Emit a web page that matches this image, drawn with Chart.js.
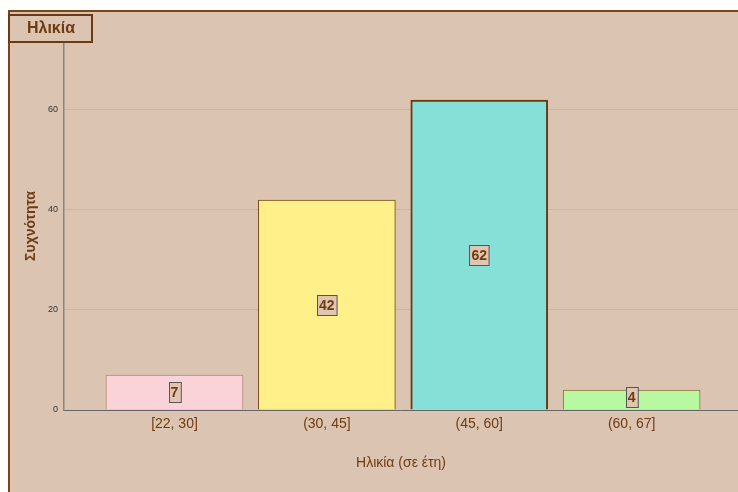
<!DOCTYPE html>
<html>
<head>
<meta charset="utf-8">
<script src="https://cdn.jsdelivr.net/npm/chart.js@4/dist/chart.umd.min.js"></script>
<style>
  html, body { margin: 0; padding: 0; background: #ffffff; }
  #wrap { width: 738px; height: 492px; position: relative; }
</style>
</head>
<body>
<div id="wrap"><canvas id="c" width="738" height="492"></canvas></div>
<script>
// Age groups and how many people fall in each
const categories = ['[22, 30]', '(30, 45]', '(45, 60]', '(60, 67]'];
const frequencies = [7, 42, 62, 4];
const yTickValues = [0, 20, 40, 60];

const chartTitle = 'Ηλικία';
const xAxisTitle = 'Ηλικία (σε έτη)';
const yAxisTitle = 'Συχνότητα';

const barFills = ['#f9d3d8', '#fff08a', '#86e0d7', '#b8f8a0'];
const barEdges = ['#b08a70', '#7a4512', '#6b3a0e', '#9a6a3a'];
const barEdgeWidths = [1, 1, 2, 1];

const BROWN = '#6e3c0e';
const PANEL = '#dcc4b2';
const FONT = '"Liberation Sans", Arial, sans-serif';

// Panel background, frame and boxed heading
const panelPlugin = {
  id: 'panel',
  beforeDraw(chart) {
    const ctx = chart.ctx;
    ctx.save();
    ctx.fillStyle = '#ffffff';
    ctx.fillRect(0, 0, chart.width, chart.height);
    ctx.fillStyle = PANEL;
    ctx.fillRect(8, 10, chart.width - 8, chart.height - 10);
    ctx.strokeStyle = '#7a4614';
    ctx.lineWidth = 2;
    ctx.beginPath();
    ctx.moveTo(9, chart.height);
    ctx.lineTo(9, 11);
    ctx.lineTo(chart.width, 11);
    ctx.stroke();
    ctx.restore();
  },
  afterDraw(chart) {
    const ctx = chart.ctx;
    ctx.save();
    ctx.fillStyle = PANEL;
    ctx.fillRect(9, 15, 83, 27);
    ctx.strokeStyle = '#6b3a0e';
    ctx.lineWidth = 2;
    ctx.strokeRect(9, 15, 83, 27);
    ctx.fillStyle = BROWN;
    ctx.font = 'bold 16px ' + FONT;
    ctx.textAlign = 'center';
    ctx.textBaseline = 'middle';
    ctx.fillText(chartTitle, 51, 29);
    ctx.restore();
  }
};

// Boxed value labels in the middle of each bar
const valueBoxPlugin = {
  id: 'valueBoxes',
  afterDatasetsDraw(chart) {
    const ctx = chart.ctx;
    const meta = chart.getDatasetMeta(0);
    const axisY = chart.scales.y.getPixelForValue(0);
    ctx.save();
    ctx.font = 'bold 14px ' + FONT;
    ctx.textAlign = 'center';
    ctx.textBaseline = 'middle';
    meta.data.forEach((bar, i) => {
      const text = String(frequencies[i]);
      const w = ctx.measureText(text).width + 4;
      const h = 20;
      let cy = (bar.y + bar.base) / 2;
      cy = Math.min(cy, axisY - 3 - h / 2);
      const x0 = Math.round(bar.x - w / 2) + 0.5;
      const y0 = Math.round(cy - h / 2) + 0.5;
      ctx.fillStyle = '#e0c6b2';
      ctx.fillRect(x0, y0, w, h);
      ctx.strokeStyle = '#555555';
      ctx.lineWidth = 1;
      ctx.strokeRect(x0, y0, w, h);
      ctx.fillStyle = BROWN;
      ctx.fillText(text, bar.x, cy + 1);
    });
    ctx.restore();
  }
};

new Chart(document.getElementById('c'), {
  type: 'bar',
  data: {
    datasets: [{
      data: frequencies.map((v, i) => ({ x: i, y: v })),
      backgroundColor: barFills,
      borderColor: barEdges,
      borderWidth: barEdgeWidths,
      barThickness: 137
    }]
  },
  options: {
    responsive: false,
    devicePixelRatio: 1,
    animation: false,
    layout: { padding: { top: 42, right: 0, bottom: 0, left: 0 } },
    plugins: {
      legend: { display: false },
      tooltip: { enabled: false }
    },
    scales: {
      x: {
        type: 'linear',
        offset: false,
        min: -0.725,
        max: 3.698,
        grid: { display: false, drawTicks: false, offset: false },
        border: { display: true, color: '#666666', width: 1 },
        afterBuildTicks(scale) {
          scale.ticks = categories.map((_, i) => ({ value: i }));
        },
        ticks: {
          autoSkip: false,
          maxRotation: 0,
          padding: 6,
          color: BROWN,
          font: { family: FONT, size: 14 },
          callback: (v) => categories[v]
        },
        title: {
          display: true,
          text: xAxisTitle,
          color: BROWN,
          font: { family: FONT, size: 14 },
          padding: { top: 0, bottom: 20 }
        },
        afterFit(scale) { scale.height = 82; }
      },
      y: {
        min: 0,
        max: 73.6,
        grid: { color: '#c6b8ae', drawTicks: false, lineWidth: 1 },
        border: { display: true, color: '#8a8480', width: 1.5 },
        afterBuildTicks(scale) {
          scale.ticks = yTickValues.map(v => ({ value: v }));
        },
        ticks: {
          padding: 6,
          color: '#333333',
          font: { family: FONT, size: 9 }
        },
        title: {
          display: true,
          text: yAxisTitle,
          color: BROWN,
          font: { family: FONT, size: 14, weight: 'bold' },
          padding: { top: 23, bottom: 0 }
        },
        afterFit(scale) { scale.width = 64; }
      }
    }
  },
  plugins: [panelPlugin, valueBoxPlugin]
});
</script>
</body>
</html>
